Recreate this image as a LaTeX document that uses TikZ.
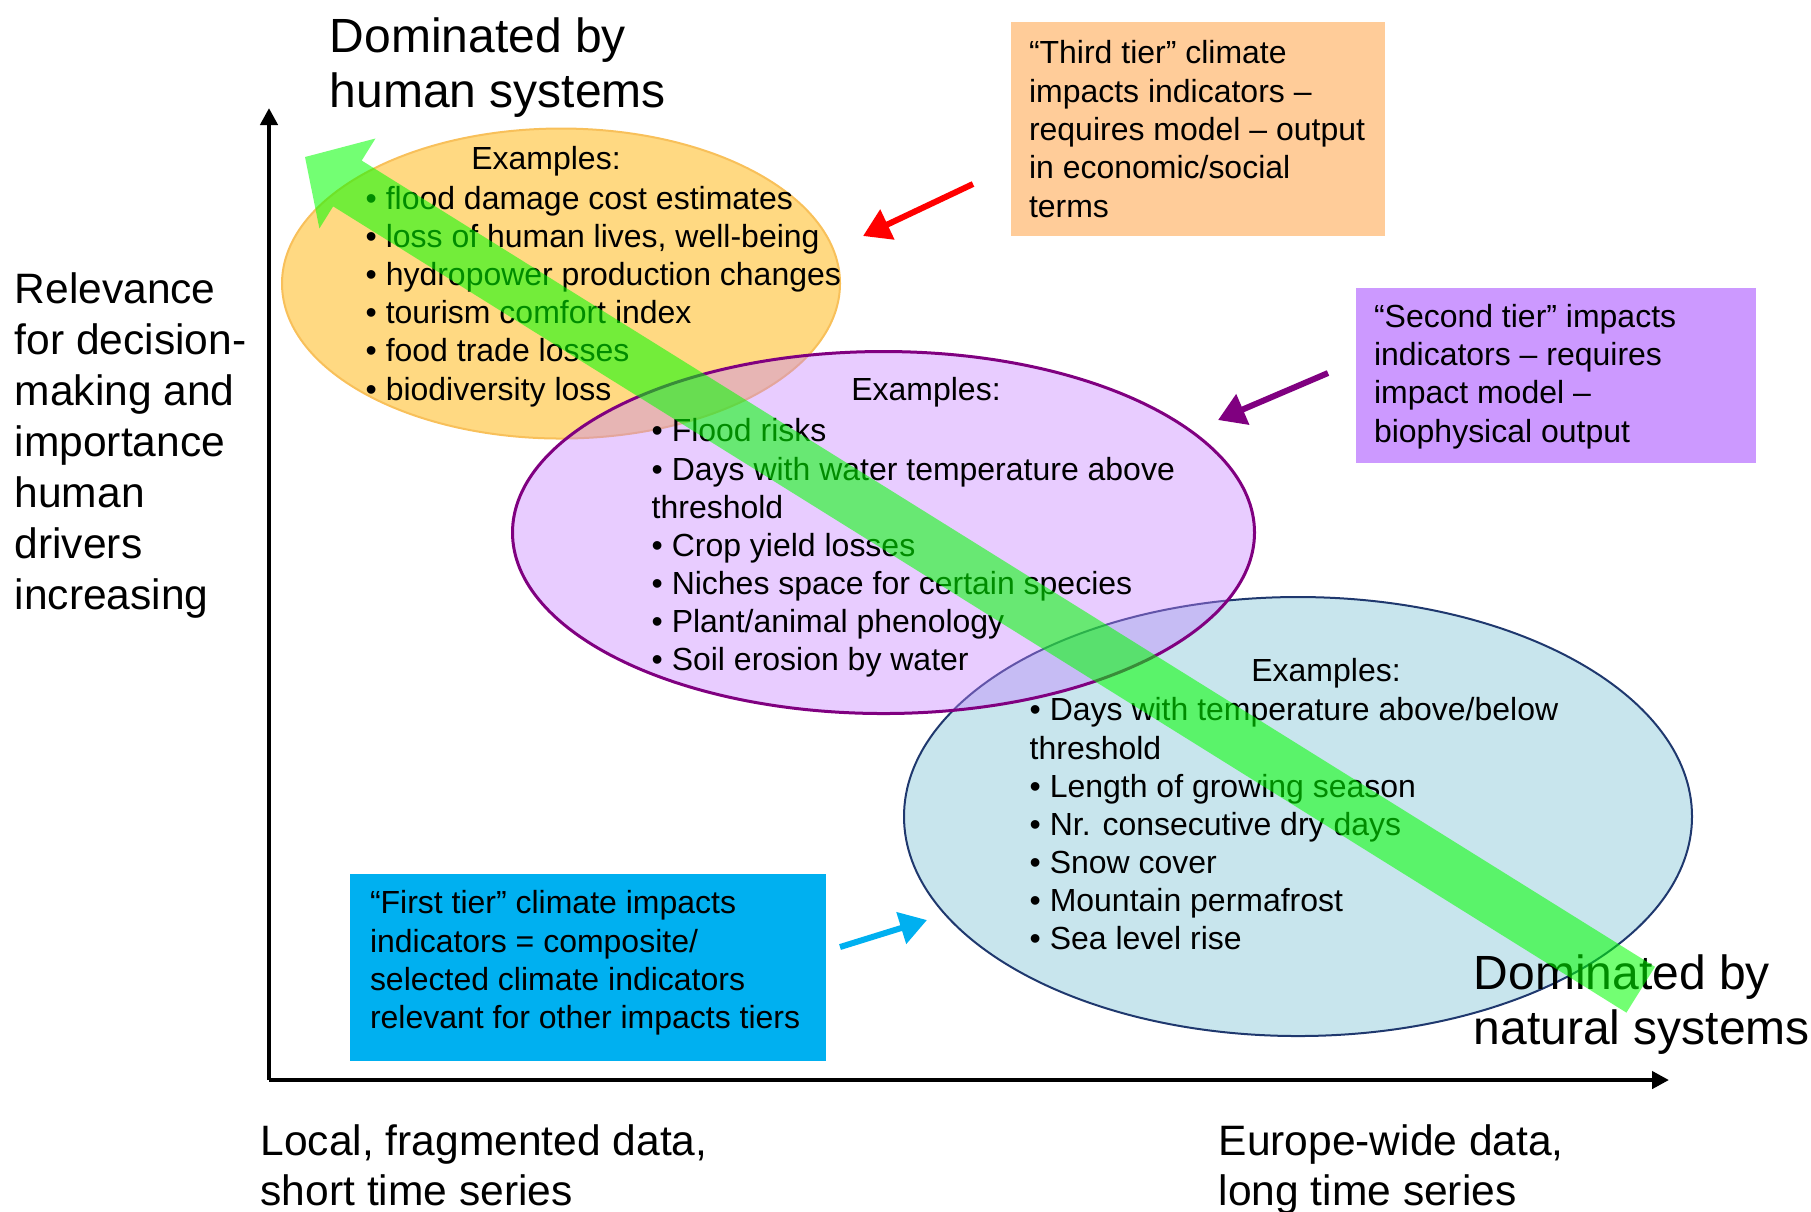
\documentclass[tikz,border=0pt]{standalone}
\usepackage{fontspec}
\setmainfont{Liberation Sans}
\usetikzlibrary{shapes}
\usetikzlibrary{arrows.meta}

\definecolor{orangefill}{RGB}{255,217,130}
\definecolor{orangeline}{RGB}{248,192,90}
\definecolor{purplefill}{RGB}{197,127,255}
\definecolor{purpleline}{RGB}{128,0,128}
\definecolor{bluefill}{RGB}{200,229,237}
\definecolor{blueline}{RGB}{31,56,110}
\definecolor{thirdbox}{RGB}{255,204,153}
\definecolor{secondbox}{RGB}{204,153,255}
\definecolor{firstbox}{RGB}{0,176,240}

\begin{document}
\begin{tikzpicture}[x=1cm,y=-1cm]
	\tikzstyle{every node}=[inner sep=0pt]
	\tikzstyle{blob}=[ellipse]
	\tikzstyle{tierbox}=[rectangle]
	\tikzstyle{tiertext}=[align=left, anchor=west, font=\fontsize{9.1}{10.9}\selectfont]
	\tikzstyle{listtext}=[align=left, anchor=north west, font=\fontsize{9.1}{10.85}\selectfont]
	\tikzstyle{bigtext}=[align=left, anchor=north west, font=\fontsize{13.66}{15.65}\selectfont]
	\tikzstyle{axistext}=[align=left, anchor=north west, font=\fontsize{12.1}{14.5}\selectfont]
	\tikzstyle{tierarrow}=[line width=0.06cm, -{Triangle[length=0.27cm,width=0.32cm]}]
	\tikzstyle{axis}=[line width=0.045cm, -{Triangle[length=0.17cm,width=0.17cm]}]

	\useasboundingbox (0,0) rectangle (18.11,12.11);

	% the three kinds of indicators
	\node[blob, minimum width=5.58cm, minimum height=3.10cm, fill=orangefill, draw=orangeline, line width=0.02cm] (third) at (5.61,2.835) {};
	\node[blob, minimum width=7.88cm, minimum height=4.39cm, fill=bluefill, draw=blueline, line width=0.02cm] (first) at (12.98,8.165) {};
	\node[blob, minimum width=7.42cm, minimum height=3.62cm, fill=purplefill, fill opacity=0.4, draw=purpleline, draw opacity=1, line width=0.03cm] (second) at (8.835,5.325) {};

	% axes
	\coordinate (origin) at (2.69,10.80);
	\coordinate (ytop) at (2.69,1.08);
	\coordinate (xend) at (16.69,10.80);
	\draw[axis] (origin) -- (ytop);
	\draw[axis] (origin) -- (xend);

	\node[bigtext] (human) at (3.29,0.17) {Dominated by\\human systems};
	\node[bigtext] (natural) at (14.73,9.54) {Dominated by\\natural systems};
	\node[axistext] (relevance) at (0.14,2.72) {Relevance\\for decision-\\making and\\importance\\human\\drivers\\increasing};
	\node[axistext, font=\fontsize{12.1}{14.23}\selectfont] (local) at (2.60,11.24) {Local, fragmented data,\\short time series};
	\node[axistext, font=\fontsize{12.1}{14.23}\selectfont] (europe) at (12.18,11.24) {Europe-wide data,\\long time series};

	% examples
	\node[listtext, anchor=center] (thirdhead) at (5.46,1.61) {Examples:};
	\node[listtext] (thirdlist) at (3.65,1.855) {• flood damage cost estimates\\• loss of human lives, well-being\\• hydropower production changes\\• tourism comfort index\\• food trade losses\\• biodiversity loss};
	\node[listtext, anchor=center] (secondhead) at (9.26,3.92) {Examples:};
	\node[listtext] (secondlist) at (6.51,4.18) {• Flood risks\\• Days with water temperature above\\threshold\\• Crop yield losses\\• Niches space for certain species\\• Plant/animal phenology\\• Soil erosion by water};
	\node[listtext, anchor=center] (firsthead) at (13.26,6.73) {Examples:};
	\node[listtext] (firstlist) at (10.29,6.97) {• Days with temperature above/below\\threshold\\• Length of growing season\\• Nr. consecutive dry days\\• Snow cover\\• Mountain permafrost\\• Sea level rise};

	% tier boxes
	\node[tierbox, fill=thirdbox, minimum width=3.74cm, minimum height=2.14cm] (thirdtier) at (11.98,1.29) {};
	\node[tiertext] (thirdtext) at ([xshift=0.18cm]thirdtier.west) {“Third tier” climate\\impacts indicators –\\requires model – output\\in economic/social\\terms};
	\node[tierbox, fill=secondbox, minimum width=4.00cm, minimum height=1.75cm] (secondtier) at (15.56,3.755) {};
	\node[tiertext] (secondtext) at ([xshift=0.18cm, yshift=-0.01cm]secondtier.west) {“Second tier” impacts\\indicators – requires\\impact model –\\biophysical output};
	\node[tierbox, fill=firstbox, minimum width=4.76cm, minimum height=1.87cm] (firsttier) at (5.88,9.675) {};
	\node[tiertext] (firsttext) at ([xshift=0.20cm, yshift=0.045cm]firsttier.west) {“First tier” climate impacts\\indicators = composite/\\selected climate indicators\\relevant for other impacts tiers};

	\coordinate (redtail) at (9.73,1.84);
	\coordinate (redtip) at (8.63,2.36);
	\coordinate (violettail) at (13.28,3.73);
	\coordinate (violettip) at (12.18,4.20);
	\coordinate (cyantail) at (8.40,9.47);
	\coordinate (cyantip) at (9.27,9.20);
	\draw[tierarrow, red] (redtail) -- (redtip);
	\draw[tierarrow, purpleline] (violettail) -- (violettip);
	\draw[tierarrow, firstbox] (cyantail) -- (cyantip);

	% big green arrow
	\coordinate (greentip) at (3.05,1.57);
	\begin{scope}[shift={(greentip)}, rotate=-31.94]
		\fill[green, fill opacity=0.55] (0,0) -- (0.50,-0.53) -- (0.50,-0.27) -- (15.74,-0.27) -- (15.74,0.27) -- (0.50,0.27) -- (0.50,0.53) -- cycle;
	\end{scope}
\end{tikzpicture}
\end{document}
